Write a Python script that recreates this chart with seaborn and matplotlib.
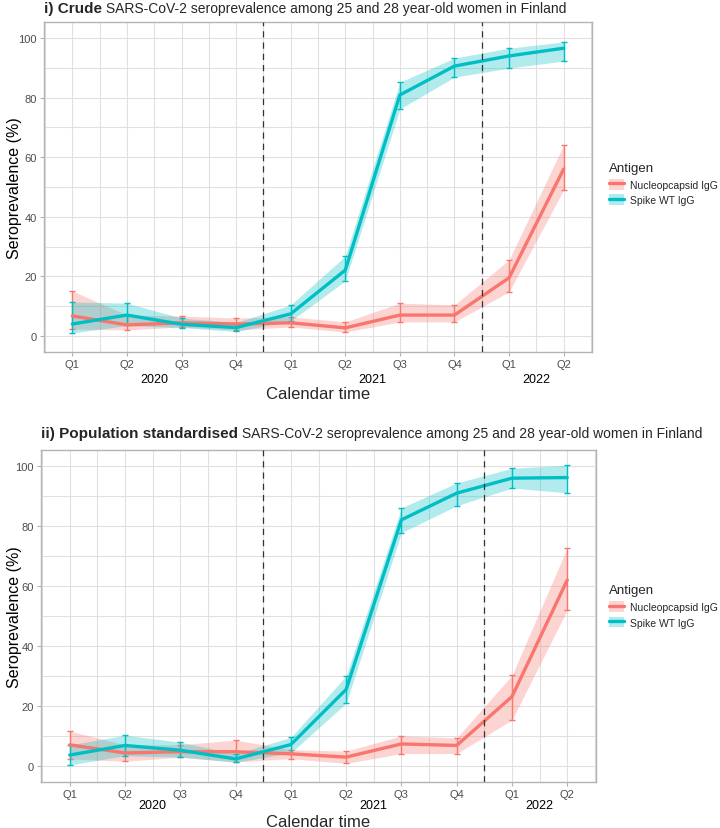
import matplotlib
matplotlib.use("Agg")
import matplotlib.pyplot as plt
import matplotlib.transforms as mtransforms
from matplotlib.lines import Line2D
from matplotlib.patches import Patch
import numpy as np
import pandas as pd
import seaborn as sns

# ---------------- data ----------------
quarters = ["Q1", "Q2", "Q3", "Q4", "Q1", "Q2", "Q3", "Q4", "Q1", "Q2"]
years = ["2020", "2021", "2022"]
year_centers = [1.5, 5.5, 8.5]
antigens = ["Nucleopcapsid IgG", "Spike WT IgG"]

crude_nuc = [6.7, 3.7, 4.4, 4.0, 4.4, 2.7, 7.0, 7.0, 19.5, 56.0]
crude_nuc_lo = [2.3, 2.0, 3.0, 2.0, 3.0, 1.3, 4.7, 4.7, 14.8, 49.0]
crude_nuc_hi = [15.1, 7.0, 6.7, 6.0, 6.4, 4.7, 11.0, 10.4, 25.5, 64.1]
crude_spk = [4.0, 7.0, 3.9, 2.8, 7.4, 22.1, 80.9, 90.6, 94.0, 96.6]
crude_spk_lo = [1.0, 3.5, 2.8, 1.5, 5.0, 18.5, 76.2, 86.9, 89.9, 92.3]
crude_spk_hi = [11.4, 11.0, 6.0, 4.5, 10.4, 26.8, 85.2, 93.3, 96.6, 98.7]

std_nuc = [7.0, 4.3, 4.7, 4.7, 4.0, 2.9, 7.3, 6.8, 23.1, 62.0]
std_nuc_lo = [2.3, 1.5, 2.9, 1.3, 2.4, 0.8, 4.1, 4.1, 15.3, 52.0]
std_nuc_hi = [11.6, 7.0, 7.0, 8.6, 5.4, 4.9, 10.0, 9.3, 30.2, 72.8]
std_spk = [3.6, 6.8, 5.2, 2.3, 7.1, 25.5, 82.1, 91.0, 96.0, 96.2]
std_spk_lo = [0.3, 3.4, 2.9, 1.2, 4.3, 20.9, 77.8, 86.8, 92.7, 91.1]
std_spk_hi = [7.0, 10.2, 7.9, 4.0, 9.5, 30.0, 86.1, 94.4, 99.3, 100.3]

colors = {"Nucleopcapsid IgG": "#F8766D", "Spike WT IgG": "#00BFC4"}

def make_df(nuc, nlo, nhi, spk, slo, shi):
    n = len(quarters)
    return pd.DataFrame({
        "t": list(range(n)) * 2,
        "antigen": [antigens[0]] * n + [antigens[1]] * n,
        "est": nuc + spk,
        "lo": nlo + slo,
        "hi": nhi + shi,
    })

df_crude = make_df(crude_nuc, crude_nuc_lo, crude_nuc_hi, crude_spk, crude_spk_lo, crude_spk_hi)
df_std = make_df(std_nuc, std_nuc_lo, std_nuc_hi, std_spk, std_spk_lo, std_spk_hi)

# ---------------- style ----------------
sns.set_theme(style="white")
plt.rcParams["font.family"] = ["Liberation Sans", "DejaVu Sans"]

W, H = 720, 829
fig = plt.figure(figsize=(W / 100, H / 100), dpi=100)

def px_axes(l, t, r, b):
    return fig.add_axes([l / W, 1 - b / H, (r - l) / W, (b - t) / H])

ax1 = px_axes(44, 23, 592, 353)
ax2 = px_axes(41, 451, 596, 783)

def draw_panel(ax, df, left_px, width_px, yr_off, xl_off, leg_y):
    ax.set_facecolor("white")
    for v in np.arange(-0.5, 10.0, 0.5):
        ax.axvline(v, color="#E0E0E0", lw=0.8, zorder=0)
    for v in range(0, 101, 10):
        ax.axhline(v, color="#E0E0E0", lw=0.8, zorder=0)
    for ag in antigens:
        d = df[df["antigen"] == ag]
        c = colors[ag]
        ax.fill_between(d["t"], d["lo"], d["hi"], color=c, alpha=0.3, lw=0, zorder=2)
        ax.errorbar(d["t"], d["est"], yerr=[d["est"] - d["lo"], d["hi"] - d["est"]],
                    fmt="none", ecolor=c, elinewidth=1.0, capsize=2.5, capthick=1.0, zorder=3)
    sns.lineplot(data=df, x="t", y="est", hue="antigen", palette=colors, lw=2.4,
                 legend=False, ax=ax, zorder=4)
    for v in (3.5, 7.5):
        ax.axvline(v, color="#333333", lw=0.9, ls=(0, (5, 4)), zorder=5)
    ax.set_xlim(-0.52, 9.52)
    ax.set_ylim(-5.4, 105.4)
    ax.set_xticks(range(len(quarters)))
    ax.set_xticklabels(quarters)
    ax.set_yticks([0, 20, 40, 60, 80, 100])
    ax.tick_params(axis="both", which="major", length=3, width=0.8, color="#B3B3B3",
                   labelsize=8, labelcolor="#4D4D4D", pad=2, bottom=True, left=True)
    for s in ax.spines.values():
        s.set_color("#B3B3B3")
        s.set_linewidth(1.0)
    ax.set_xlabel("")
    ax.set_ylabel("Seroprevalence (%)", fontsize=11.5, color="black")
    ax.yaxis.set_label_coords((22 - left_px) / width_px, 0.5)
    tr = mtransforms.blended_transform_factory(ax.transData, ax.transAxes)
    for yr, xc in zip(years, year_centers):
        off = mtransforms.offset_copy(tr, fig=fig, y=-yr_off, units="dots")
        ax.text(xc, 0, yr, transform=off, ha="center", va="center", fontsize=9, color="black")
    off = mtransforms.offset_copy(ax.transAxes, fig=fig, y=-xl_off, units="dots")
    ax.text(0.5, 0, "Calendar time", transform=off, ha="center", va="center", fontsize=12)

    handles = [(Patch(facecolor=colors[a], alpha=0.3, edgecolor="none"),
                Line2D([], [], color=colors[a], lw=2.4)) for a in antigens]
    leg = ax.legend(handles, antigens, title="Antigen", loc="center left",
                    bbox_to_anchor=((609 - left_px) / width_px, leg_y), frameon=False,
                    fontsize=7.5, title_fontsize=9.5, handlelength=1.45, handleheight=1.2,
                    handletextpad=0.6, labelspacing=0.45, borderaxespad=0, borderpad=0)
    leg._legend_box.align = "left"

draw_panel(ax1, df_crude, 44, 548, 27, 42, 0.51)
draw_panel(ax2, df_std, 41, 555, 23, 40, 0.53)

# ---------------- titles (mixed bold / regular) ----------------
renderer = fig.canvas.get_renderer()

def mixed_title(x_px, y_px, bold, regular):
    t1 = fig.text(x_px / W, 1 - y_px / H, bold, fontsize=11.0, fontweight="bold",
                  ha="left", va="center")
    bb = t1.get_window_extent(renderer=renderer)
    fig.text(bb.x1 / W, 1 - y_px / H, " " + regular, fontsize=10.0, ha="left", va="center")

mixed_title(44, 9, "i) Crude", "SARS-CoV-2 seroprevalence among 25 and 28 year-old women in Finland")
mixed_title(41, 434, "ii) Population standardised",
            "SARS-CoV-2 seroprevalence among 25 and 28 year-old women in Finland")

fig.savefig("out.png", dpi=100)
